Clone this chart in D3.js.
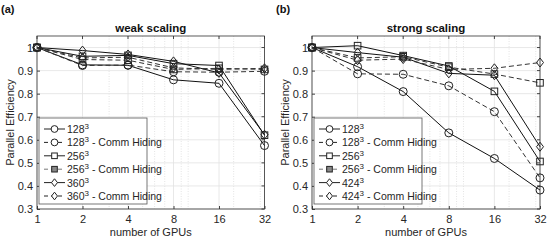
<!DOCTYPE html>
<html>
<head>
<meta charset="utf-8">
<script src="https://cdn.jsdelivr.net/npm/d3@7"></script>
<style>
body { margin: 0; background: #fff; }
text { font-family: "Liberation Sans", Arial, sans-serif; }
</style>
</head>
<body>
<script>
var w = 550;
var h = 241;

// data
var gpus = [1, 2, 4, 8, 16, 32];
var yTicks = [0.3, 0.4, 0.5, 0.6, 0.7, 0.8, 0.9, 1];

var weak128 = [1, 0.925, 0.923, 0.86, 0.845, 0.575];
var weak128ch = [1, 0.922, 0.924, 0.895, 0.893, 0.897];
var weak256 = [1, 0.962, 0.966, 0.93, 0.922, 0.62];
var weak256ch = [1, 0.948, 0.945, 0.905, 0.91, 0.905];
var weak360 = [1, 0.987, 0.97, 0.94, 0.89, 0.622];
var weak360ch = [1, 0.955, 0.958, 0.912, 0.905, 0.91];

var strong128 = [1, 0.917, 0.809, 0.63, 0.519, 0.382];
var strong128ch = [1, 0.886, 0.884, 0.834, 0.722, 0.435];
var strong256 = [1, 1.008, 0.965, 0.92, 0.81, 0.506];
var strong256ch = [1, 0.955, 0.96, 0.915, 0.885, 0.847];
var strong424 = [1, 0.978, 0.958, 0.888, 0.88, 0.57];
var strong424ch = [1, 0.945, 0.95, 0.905, 0.91, 0.935];

var weakNames = ["128", "128", "256", "256", "360", "360"];
var strongNames = ["128", "128", "256", "256", "424", "424"];

var svg = d3.select("body").append("svg")
    .attr("width", w)
    .attr("height", h);

function makeSeries(vals, names) {
    var shapes = ["circle", "circle", "square", "square", "diamond", "diamond"];
    return vals.map(function(v, i) {
        return {values: v, name: names[i], dashed: i % 2 == 1, shape: shapes[i]};
    });
}

function drawMarker(g, shape, x, y, fill, s) {
    s = s || 1;
    if (shape == "circle") {
        g.append("circle").attr("cx", x).attr("cy", y).attr("r", 4 * s)
            .attr("fill", fill).attr("stroke", "#222").attr("stroke-width", 1);
    } else if (shape == "square") {
        g.append("rect").attr("x", x - 3.3 * s).attr("y", y - 3.3 * s)
            .attr("width", 6.6 * s).attr("height", 6.6 * s)
            .attr("fill", fill).attr("stroke", "#222").attr("stroke-width", 1);
    } else {
        g.append("path")
            .attr("d", "M" + x + "," + (y - 4.5 * s) + "L" + (x + 3.5 * s) + "," + y +
                "L" + x + "," + (y + 4.5 * s) + "L" + (x - 3.5 * s) + "," + y + "Z")
            .attr("fill", fill).attr("stroke", "#222").attr("stroke-width", 1);
    }
}

function panel(left, right, label, title, series) {
    var top = 36, bottom = 209;
    var x = d3.scaleLog().base(2).domain([1, 32]).range([left, right]);
    var y = d3.scaleLinear().domain([0.3, 1.05]).range([bottom, top]);

    var g = svg.append("g");

    // minor grid on the log axis
    var minor = [3, 5, 6, 7, 9, 10, 20, 30];
    g.selectAll(".minor").data(minor).enter().append("line")
        .attr("x1", function(d) { return x(d); })
        .attr("x2", function(d) { return x(d); })
        .attr("y1", top).attr("y2", bottom)
        .attr("stroke", "#d8d8d8").attr("stroke-width", 0.7)
        .attr("stroke-dasharray", "1,1.5");

    g.selectAll(".vgrid").data(gpus).enter().append("line")
        .attr("x1", function(d) { return x(d); })
        .attr("x2", function(d) { return x(d); })
        .attr("y1", top).attr("y2", bottom)
        .attr("stroke", "#e2e2e2").attr("stroke-width", 0.8);

    g.selectAll(".hgrid").data(yTicks).enter().append("line")
        .attr("x1", left).attr("x2", right)
        .attr("y1", function(d) { return y(d); })
        .attr("y2", function(d) { return y(d); })
        .attr("stroke", "#e2e2e2").attr("stroke-width", 0.8);

    // axes
    var xAxis = d3.axisBottom(x).tickValues(gpus).tickFormat(d3.format("d"))
        .tickSizeInner(-3).tickSizeOuter(0).tickPadding(6);
    var yAxis = d3.axisLeft(y).tickValues(yTicks)
        .tickFormat(function(d) { return d == 1 ? "1" : d3.format(".1f")(d); })
        .tickSizeInner(-3).tickSizeOuter(0).tickPadding(4);

    var ax = g.append("g").attr("transform", "translate(0," + bottom + ")").call(xAxis);
    var ay = g.append("g").attr("transform", "translate(" + left + ",0)").call(yAxis);
    [ax, ay].forEach(function(a) {
        a.select(".domain").remove();
        a.selectAll("line").attr("stroke", "#444");
        a.selectAll("text").attr("font-size", "11px").attr("fill", "#262626")
            .attr("font-family", "Liberation Sans, Arial, sans-serif");
    });
    // ticks on top and right too, like the box
    g.selectAll(".tt").data(gpus).enter().append("line")
        .attr("x1", function(d) { return x(d); }).attr("x2", function(d) { return x(d); })
        .attr("y1", top).attr("y2", top + 3).attr("stroke", "#444");
    g.selectAll(".rt").data(yTicks).enter().append("line")
        .attr("x1", right).attr("x2", right - 3)
        .attr("y1", function(d) { return y(d); }).attr("y2", function(d) { return y(d); })
        .attr("stroke", "#444");

    g.append("rect").attr("x", left).attr("y", top)
        .attr("width", right - left).attr("height", bottom - top)
        .attr("fill", "none").attr("stroke", "#333").attr("stroke-width", 0.8);

    // lines
    var line = d3.line()
        .x(function(d, i) { return x(gpus[i]); })
        .y(function(d) { return y(d); });

    series.forEach(function(s) {
        g.append("path").datum(s.values)
            .attr("d", line)
            .attr("fill", "none")
            .attr("stroke", s.dashed ? "#333" : "#111")
            .attr("stroke-width", 1)
            .attr("stroke-dasharray", s.dashed ? "5,3" : null);
    });
    series.forEach(function(s) {
        s.values.forEach(function(v, i) {
            drawMarker(g, s.shape, x(gpus[i]), y(v), "none");
        });
    });

    // legend
    var lx = left + 2, ly = 118, lw = 108, lh = 86;
    g.append("rect").attr("x", lx).attr("y", ly).attr("width", lw).attr("height", lh)
        .attr("fill", "#fff").attr("stroke", "#555").attr("stroke-width", 0.8);
    series.forEach(function(s, i) {
        var yy = ly + 11 + i * 13.4;
        g.append("line").attr("x1", lx + 5).attr("x2", lx + 26)
            .attr("y1", yy).attr("y2", yy)
            .attr("stroke", s.dashed && i == 3 ? "#777" : "#222")
            .attr("stroke-dasharray", s.dashed ? "4,3" : null);
        drawMarker(g, s.shape, lx + 15.5, yy, i == 3 ? "#888" : "#fff", 0.85);
        var t = g.append("text").attr("x", lx + 28).attr("y", yy + 4)
            .attr("font-size", "10.5px").attr("fill", "#262626");
        t.append("tspan").text(s.name);
        t.append("tspan").attr("dy", -4).attr("font-size", "8px").text("3");
        if (s.dashed) t.append("tspan").attr("dy", 4).text(" - Comm Hiding");
    });

    // texts
    svg.append("text").attr("x", (left + right) / 2).attr("y", 32)
        .attr("text-anchor", "middle").attr("font-size", "11.5px")
        .attr("font-weight", "bold").attr("fill", "#111").text(title);
    svg.append("text").attr("x", (left + right) / 2).attr("y", 236)
        .attr("text-anchor", "middle").attr("font-size", "11px")
        .attr("fill", "#262626").text("number of GPUs");
    svg.append("text")
        .attr("transform", "translate(" + (left - 23) + "," + ((top + bottom) / 2) + ") rotate(-90)")
        .attr("text-anchor", "middle").attr("font-size", "11px")
        .attr("fill", "#262626").text("Parallel Efficiency");
    svg.append("text").attr("x", left - 36).attr("y", 13)
        .attr("font-family", "Liberation Serif, serif").attr("font-weight", "bold")
        .attr("font-size", "11px").attr("fill", "#111").text(label);
}

panel(37, 264.5, "(a)", "weak scaling",
    makeSeries([weak128, weak128ch, weak256, weak256ch, weak360, weak360ch], weakNames));
panel(312, 540, "(b)", "strong scaling",
    makeSeries([strong128, strong128ch, strong256, strong256ch, strong424, strong424ch], strongNames));
</script>
</body>
</html>
